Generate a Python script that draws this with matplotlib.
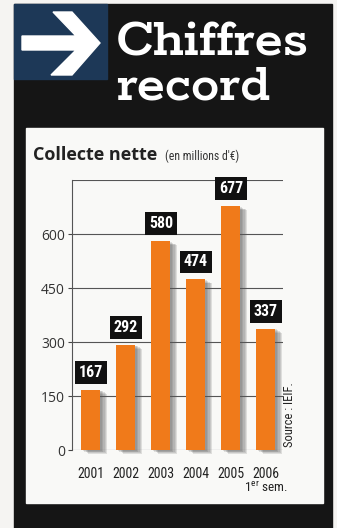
import matplotlib.pyplot as plt
from matplotlib.patches import Rectangle, Polygon

# data
years = ['2001', '2002', '2003', '2004', '2005', '2006']
collecte = [167, 292, 580, 474, 677, 337]
grid_levels = [0, 150, 300, 450, 600, 750]
tick_levels = [0, 150, 300, 450, 600]

W, H = 337, 528
narrow = ['Roboto Condensed', 'DejaVu Sans']
orange = '#f07a1a'

plt.rcParams['mathtext.fontset'] = 'custom'
plt.rcParams['mathtext.rm'] = 'Roboto Condensed'


def fx(px):
    return px / W


def fy(py):
    return 1 - py / H


def rect(x0, y0, x1, y1, color, z=0):
    # pixel coords measured from the top-left corner
    fig.patches.append(Rectangle((fx(x0), fy(y1)), fx(x1) - fx(x0), fy(y0) - fy(y1),
                                 transform=fig.transFigure, color=color, zorder=z))


fig = plt.figure(figsize=(W / 100, H / 100), dpi=100)
fig.patch.set_facecolor('#f5f4f2')

# background panels
rect(14, 4, 332, 528, '#151515')
rect(14, 4, 107, 79, '#1d3857', 1)
rect(26, 128, 323, 503, '#f9f9f7', 1)

# arrow
arrow_px = [(22, 36), (76, 36), (53, 12), (72, 12), (100, 43), (72, 75), (51, 75), (76, 50), (22, 50)]
fig.patches.append(Polygon([(fx(x), fy(y)) for x, y in arrow_px], closed=True,
                           transform=fig.transFigure, color='white', zorder=2))

# header text
serif = ['Rokkitt', 'DejaVu Serif']
fig.text(fx(116), fy(55), 'Chiffres', color='white', family=serif, fontsize=41,
         weight='semibold', va='baseline')
fig.text(fx(116), fy(100), 'record', color='white', family=serif, fontsize=41,
         weight='semibold', va='baseline')

# chart title
fig.text(fx(33), fy(160), 'Collecte nette', family='Open Sans', weight='bold',
         fontsize=13, color='#222222', va='baseline')
fig.text(fx(165), fy(160), "(en millions d'€)", family=narrow, fontsize=8.5,
         color='#333333', va='baseline')

ax = fig.add_axes([fx(72), fy(450), fx(283) - fx(72), fy(180) - fy(450)])
ax.set_facecolor('none')
ax.set_zorder(3)
x = list(range(len(years)))

ax.hlines(grid_levels, -0.54, 5.49, color='#555555', lw=0.8, zorder=1)

# blurred shadow behind bars
for k in range(1, 6):
    ax.bar([i + 0.04 * k for i in x], collecte, width=0.54, bottom=-2.2 * k,
           color='#555555', alpha=0.16, zorder=2, clip_on=False, linewidth=0)
ax.bar(x, collecte, width=0.54, color=orange, zorder=3, linewidth=0)

for i, v in zip(x, collecte):
    ax.annotate(str(v), xy=(i, v), xytext=(0, 12.5), textcoords='offset points',
                ha='center', va='center', color='white', fontsize=11.5, weight='bold',
                family=narrow, zorder=4,
                bbox=dict(boxstyle='square,pad=0.25', fc='#111111', ec='none'))

ax.set_xlim(-0.54, 5.49)
ax.set_ylim(0, 750)
ax.set_yticks(tick_levels)
ax.set_yticklabels([str(t) for t in tick_levels], family='Open Sans', fontsize=10, color='#333333')
ax.set_xticks(x)
ax.set_xticklabels(years, family=narrow, fontsize=10, color='#222222')
ax.tick_params(axis='y', length=3, width=0.8, pad=2, color='#444444')
ax.tick_params(axis='x', length=0, pad=12)
for s in ['top', 'right', 'bottom']:
    ax.spines[s].set_visible(False)
ax.spines['left'].set_color('#555555')
ax.spines['left'].set_linewidth(0.8)

ax.annotate('1$^{\\mathrm{er}}$ sem.', xy=(5, 0), xycoords=('data', 'axes fraction'),
            xytext=(0, -27.5), textcoords='offset points', ha='center', va='center',
            family=narrow, fontsize=9.5, color='#222222')

ax.text(1.033, 0.01, 'Source : IEIF.', transform=ax.transAxes, rotation=90,
        ha='center', va='bottom', family=narrow, fontsize=9, color='#222222')

fig.savefig('out.png', dpi=100)
